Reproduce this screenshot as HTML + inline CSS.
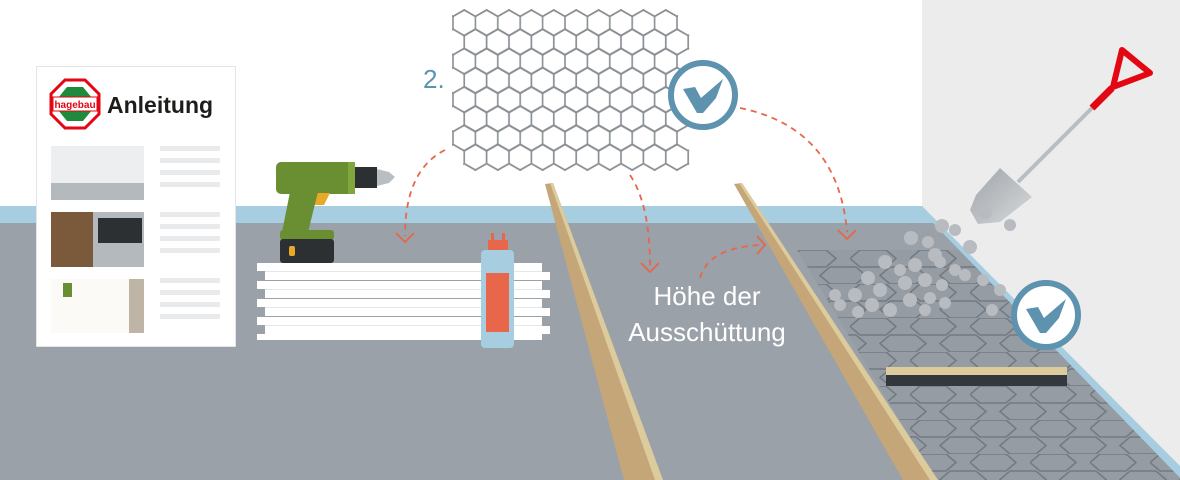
<!DOCTYPE html>
<html><head><meta charset="utf-8"><style>
html,body{margin:0;padding:0;background:#fff;}
svg{display:block}
</style></head><body>
<svg width="1180" height="480" viewBox="0 0 1180 480" xmlns="http://www.w3.org/2000/svg" font-family="Liberation Sans, sans-serif">
<defs>
<pattern id="hx" patternUnits="userSpaceOnUse" x="453" y="10" width="22.4" height="38.4">
<g fill="none" stroke="#8a8f94" stroke-width="1.6">
<path d="M11.2,0 L22.4,6.4 L22.4,19.2 L11.2,25.6 L0,19.2 L0,6.4 Z"/>
<path d="M0,19.2 L11.2,25.6 L11.2,38.4 L0,44.8 L-11.2,38.4 L-11.2,25.6 Z"/>
<path d="M22.4,19.2 L33.6,25.6 L33.6,38.4 L22.4,44.8 L11.2,38.4 L11.2,25.6 Z"/>
<path d="M0,-19.2 L11.2,-12.8 L11.2,0 L0,6.4 L-11.2,0 L-11.2,-12.8 Z"/>
<path d="M22.4,-19.2 L33.6,-12.8 L33.6,0 L22.4,6.4 L11.2,0 L11.2,-12.8 Z"/>
</g>
</pattern>
<pattern id="fh" patternUnits="userSpaceOnUse" x="790" y="250" width="60" height="34">
<g fill="none" stroke="#737a81" stroke-width="1.6">
<path d="M0,8.5 L10,0 L36,0 L46,8.5 L36,17 L10,17 Z"/>
<path d="M-30,25.5 L-20,17 L6,17 L16,25.5 L6,34 L-20,34 Z"/>
<path d="M30,25.5 L40,17 L66,17 L76,25.5 L66,34 L40,34 Z"/>
</g>
</pattern>
<clipPath id="fc"><polygon points="797,250 959,250 1180,478 1180,480 936,480"/></clipPath>
<linearGradient id="bl" x1="0" y1="0" x2="1" y2="1"><stop offset="0" stop-color="#9fa4a8"/><stop offset="1" stop-color="#d6d9dc"/></linearGradient>
</defs>

<rect x="922" y="0" width="258" height="480" fill="#ececec"/>
<polygon points="0,206 922,206 1180,466 1180,480 0,480" fill="#a6cde0"/>
<polygon points="0,223 933,223 1180,478 1180,480 0,480" fill="#9aa1a8"/>

<g clip-path="url(#fc)">
<rect x="790" y="250" width="390" height="230" fill="#959ca3"/>
<rect x="790" y="250" width="390" height="230" fill="url(#fh)"/>
</g>

<polygon points="545,184 553,183 663,480 624,480" fill="#c5a679"/>
<polygon points="550,183 553,183 663,480 655,480" fill="#dccb9c"/>
<polygon points="734,184 742,183 938,480 903,480" fill="#c5a679"/>
<polygon points="739,183 742,183 938,480 930,480" fill="#dccb9c"/>

<rect x="886" y="367" width="181" height="8" fill="#dccb9c"/>
<rect x="886" y="375" width="181" height="11" fill="#33383d"/>

<!-- mesh -->
<g fill="url(#hx)">
<rect x="452" y="9" width="226" height="27.6"/>
<rect x="463.2" y="28.2" width="226" height="27.6"/>
<rect x="452" y="47.4" width="226" height="27.6"/>
<rect x="463.2" y="66.6" width="226" height="27.6"/>
<rect x="452" y="85.8" width="226" height="27.6"/>
<rect x="463.2" y="105" width="226" height="27.6"/>
<rect x="452" y="124.2" width="226" height="27.6"/>
<rect x="463.2" y="143.4" width="226" height="27.6"/>
</g>
<text x="423" y="88" font-size="26" fill="#5b93b1">2.</text>

<g>
<circle cx="703" cy="95" r="32" fill="#fff" stroke="#5d93ae" stroke-width="6"/>
<polygon points="683,89 695,87 701,98 723,79 716,98 703,113 697,113" fill="#5d93ae"/>
</g>
<g transform="translate(343,220)">
<circle cx="703" cy="95" r="32" fill="#fff" stroke="#5d93ae" stroke-width="6"/>
<polygon points="683,89 695,87 701,98 723,79 716,98 703,113 697,113" fill="#5d93ae"/>
</g>

<g fill="none" stroke="#e8664a" stroke-width="1.8">
<path d="M445,150 Q405,170 405,236" stroke-dasharray="6 5"/>
<polyline points="396,233 405,242 414,233"/>
<path d="M630,175 Q650,205 650,266" stroke-dasharray="6 5"/>
<polyline points="641,263 650,272 659,263"/>
<path d="M700,278 Q708,248 760,245" stroke-dasharray="6 5"/>
<polyline points="757,236 765,245 757,254"/>
<path d="M740,108 Q838,128 847,232" stroke-dasharray="6 5"/>
<polyline points="838,230 847,239 856,230"/>
</g>

<text x="707" y="305" font-size="26" fill="#fff" text-anchor="middle">Höhe der</text>
<text x="707" y="341" font-size="26" fill="#fff" text-anchor="middle">Ausschüttung</text>

<g fill="#fff">
<rect x="257" y="263" width="285" height="8"/>
<rect x="265" y="272" width="285" height="8"/>
<rect x="257" y="281" width="285" height="8"/>
<rect x="265" y="290" width="285" height="8"/>
<rect x="257" y="299" width="285" height="8"/>
<rect x="265" y="308" width="285" height="8"/>
<rect x="257" y="317" width="285" height="8"/>
<rect x="265" y="326" width="285" height="8"/>
<rect x="257" y="334" width="285" height="6"/>
</g>
<g fill="#e4e6e8">
<rect x="265" y="271" width="277" height="1"/><rect x="265" y="289" width="277" height="1"/><rect x="265" y="307" width="277" height="1"/><rect x="265" y="325" width="277" height="1"/>
</g>

<rect x="488" y="240" width="20" height="12" fill="#e8664a"/>
<rect x="491" y="233" width="3" height="8" fill="#e8664a"/>
<rect x="502" y="233" width="3" height="8" fill="#e8664a"/>
<rect x="481" y="250" width="33" height="98" rx="4" fill="#a6cde0"/>
<rect x="486" y="273" width="23" height="59" fill="#e8664a"/>

<rect x="276" y="162" width="79" height="32" rx="5" fill="#6a8f33"/>
<rect x="348" y="162" width="7" height="32" fill="#7fa73b"/>
<rect x="355" y="167" width="22" height="21" fill="#2c3033"/>
<polygon points="377,169 389,172 395,177 389,183 377,186" fill="#b9bec2"/>
<polygon points="315,193 330,193 324,205 312,205" fill="#e8a928"/>
<polygon points="290,192 318,192 308,232 282,232" fill="#6a8f33"/>
<rect x="280" y="230" width="54" height="10" rx="3" fill="#6a8f33"/>
<rect x="280" y="239" width="54" height="24" rx="3" fill="#2c3033"/>
<rect x="289" y="246" width="6" height="10" rx="2" fill="#e8a928"/>

<line x1="1095" y1="105" x2="1018" y2="182" stroke="#b8bdc1" stroke-width="4"/>
<line x1="1092" y1="108" x2="1112" y2="88" stroke="#e30613" stroke-width="7"/>
<polygon points="1122,50 1150,73 1113,87" fill="none" stroke="#e30613" stroke-width="6" stroke-linejoin="round"/>
<polygon points="1000,168 1032,197 1000,222 978,224 970,210 976,195" fill="url(#bl)"/>

<g fill="#b8bcc0">
<circle cx="985" cy="212" r="7"/><circle cx="1010" cy="225" r="6"/><circle cx="942" cy="226" r="7"/><circle cx="955" cy="230" r="6"/>
<circle cx="911" cy="238" r="7"/><circle cx="928" cy="242" r="6"/><circle cx="970" cy="247" r="7"/><circle cx="935" cy="255" r="7"/>
<circle cx="885" cy="262" r="7"/><circle cx="900" cy="270" r="6"/><circle cx="915" cy="265" r="7"/><circle cx="940" cy="262" r="6"/><circle cx="955" cy="270" r="6"/>
<circle cx="868" cy="278" r="7"/><circle cx="880" cy="290" r="7"/><circle cx="905" cy="283" r="7"/><circle cx="925" cy="280" r="7"/><circle cx="942" cy="285" r="6"/><circle cx="965" cy="275" r="6"/><circle cx="983" cy="280" r="6"/>
<circle cx="835" cy="295" r="6"/><circle cx="855" cy="295" r="7"/><circle cx="872" cy="305" r="7"/><circle cx="890" cy="310" r="7"/><circle cx="910" cy="300" r="7"/><circle cx="930" cy="298" r="6"/><circle cx="945" cy="303" r="6"/>
<circle cx="840" cy="305" r="6"/><circle cx="858" cy="312" r="6"/><circle cx="925" cy="310" r="6"/><circle cx="992" cy="310" r="6"/><circle cx="1000" cy="290" r="6"/>
</g>

<rect x="36.5" y="66.5" width="199" height="280" fill="#fff" stroke="#e2e4e6"/>
<polygon points="65,80 85,80 99,94 99,114 85,128 65,128 51,114 51,94" fill="#fff" stroke="#e30613" stroke-width="3"/>
<path d="M58,98 L67,87 L83,87 L92,98 Z M58,110 L92,110 L83,121 L67,121 Z" fill="#1e8a3c"/>
<rect x="53" y="97" width="44" height="14" fill="#fff" stroke="#e30613" stroke-width="1"/>
<text x="75" y="108" font-size="10" fill="#e30613" text-anchor="middle" font-weight="bold">hagebau</text>
<text x="107" y="113" font-size="23" font-weight="bold" fill="#1d1d1b">Anleitung</text>

<rect x="51" y="146" width="93" height="54" fill="#eceef0"/>
<rect x="51" y="183" width="93" height="17" fill="#b4b9be"/>
<rect x="51" y="212" width="42" height="55" fill="#7a5a3a"/>
<rect x="93" y="212" width="51" height="55" fill="#b4b9be"/>
<rect x="98" y="218" width="44" height="25" fill="#2c3033"/>
<rect x="51" y="279" width="93" height="54" fill="#fbfaf6"/>
<rect x="129" y="279" width="15" height="54" fill="#bfb5a6"/>
<rect x="63" y="283" width="9" height="14" fill="#6a8f33"/>
<g fill="#e8eaec">
<rect x="160" y="146" width="60" height="5"/><rect x="160" y="158" width="60" height="5"/><rect x="160" y="170" width="60" height="5"/><rect x="160" y="182" width="60" height="5"/>
<rect x="160" y="212" width="60" height="5"/><rect x="160" y="224" width="60" height="5"/><rect x="160" y="236" width="60" height="5"/><rect x="160" y="248" width="60" height="5"/>
<rect x="160" y="278" width="60" height="5"/><rect x="160" y="290" width="60" height="5"/><rect x="160" y="302" width="60" height="5"/><rect x="160" y="314" width="60" height="5"/>
</g>
</svg>
</body></html>
